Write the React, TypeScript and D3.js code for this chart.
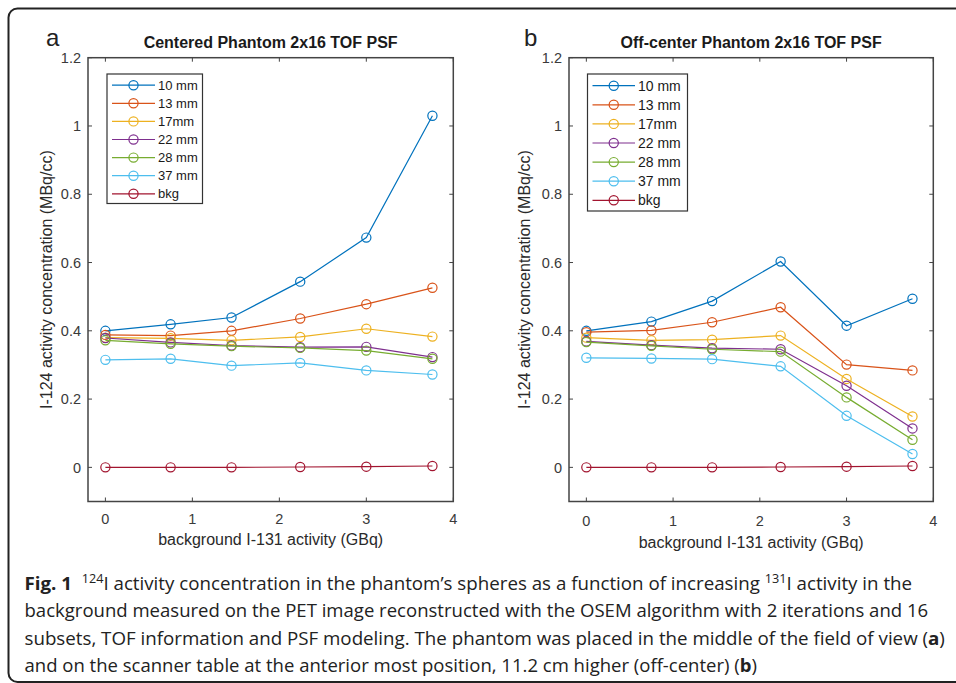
import React, { useLayoutEffect, useRef } from "react";
import * as d3 from "d3";

const xVals = [0, 0.75, 1.45, 2.24, 3.0, 3.76];
const seriesNames = ["10 mm", "13 mm", "17mm", "22 mm", "28 mm", "37 mm", "bkg"];
const seriesColors = ["#0072BD", "#D95319", "#EDB120", "#7E2F8E", "#77AC30", "#4DBEEE", "#A2142F"];

const s10a = [0.400, 0.419, 0.439, 0.544, 0.673, 1.030];
const s13a = [0.388, 0.386, 0.400, 0.436, 0.478, 0.526];
const s17a = [0.380, 0.378, 0.372, 0.382, 0.406, 0.383];
const s22a = [0.379, 0.366, 0.357, 0.352, 0.353, 0.323];
const s28a = [0.372, 0.362, 0.355, 0.350, 0.342, 0.318];
const s37a = [0.315, 0.318, 0.298, 0.306, 0.284, 0.272];
const bkga = [0.000, 0.000, 0.000, 0.001, 0.002, 0.004];

const s10b = [0.400, 0.427, 0.487, 0.603, 0.415, 0.494];
const s13b = [0.396, 0.401, 0.425, 0.469, 0.301, 0.284];
const s17b = [0.380, 0.372, 0.374, 0.386, 0.259, 0.149];
const s22b = [0.369, 0.358, 0.349, 0.346, 0.239, 0.114];
const s28b = [0.367, 0.356, 0.346, 0.339, 0.205, 0.081];
const s37b = [0.321, 0.319, 0.317, 0.296, 0.151, 0.039];
const bkgb = [0.000, 0.000, 0.000, 0.001, 0.002, 0.004];

const xTicks = [0, 1, 2, 3, 4];
const yTicks = [0, 0.2, 0.4, 0.6, 0.8, 1, 1.2];
const titleA = "Centered Phantom 2x16 TOF PSF";
const titleB = "Off-center Phantom 2x16 TOF PSF";
const xLabel = "background I-131 activity (GBq)";
const yLabel = "I-124 activity concentration (MBq/cc)";

const FONT = "'Liberation Sans', Arial, Helvetica, sans-serif";

type PanelProps = {
  left: number; right: number; top: number; bottom: number;
  data: number[][]; title: string; letter: string; letterX: number;
  legend: { x0: number; x1: number; y0: number; y1: number; row0: number; step: number; fs: number; lx0: number; lx1: number; tx: number };
  yLabelX: number; xLabelY: number; tickLabelY: number;
};

function Panel(p: PanelProps) {
  const x = d3.scaleLinear().domain([-0.2, 4]).range([p.left, p.right]);
  const y = d3.scaleLinear().domain([-0.1, 1.2]).range([p.bottom, p.top]);
  const line = d3.line<number>().x((_, i) => x(xVals[i])).y((v) => y(v));
  const tl = 4;
  const axisColor = "#444";
  const cx = (p.left + p.right) / 2;
  const cy = (p.top + p.bottom) / 2;
  const lg = p.legend;
  return (
    <g>
      <text x={p.letterX} y={45.5} fontFamily={FONT} fontSize={24} fill="#222">{p.letter}</text>
      <text x={cx} y={48} textAnchor="middle" fontFamily={FONT} fontSize={16} fontWeight="bold" fill="#1a1a1a">{p.title}</text>
      {xTicks.map((t) => (
        <g key={"xt" + t}>
          <line x1={x(t)} x2={x(t)} y1={p.bottom} y2={p.bottom - tl} stroke={axisColor} strokeWidth={1} />
          <line x1={x(t)} x2={x(t)} y1={p.top} y2={p.top + tl} stroke={axisColor} strokeWidth={1} />
          <text x={x(t)} y={p.tickLabelY} textAnchor="middle" fontFamily={FONT} fontSize={14.5} fill="#3a3a3a">{t}</text>
        </g>
      ))}
      {yTicks.map((t) => (
        <g key={"yt" + t}>
          <line x1={p.left} x2={p.left + tl} y1={y(t)} y2={y(t)} stroke={axisColor} strokeWidth={1} />
          <line x1={p.right} x2={p.right - tl} y1={y(t)} y2={y(t)} stroke={axisColor} strokeWidth={1} />
          <text x={p.left - 7} y={y(t)} dy="0.36em" textAnchor="end" fontFamily={FONT} fontSize={14.5} fill="#3a3a3a">{String(t)}</text>
        </g>
      ))}
      <rect x={p.left} y={p.top} width={p.right - p.left} height={p.bottom - p.top} fill="none" stroke={axisColor} strokeWidth={1.5} />
      {p.data.map((vals, si) => (
        <g key={"s" + si}>
          <path d={line(vals) || ""} fill="none" stroke={seriesColors[si]} strokeWidth={1.2} />
          {vals.map((v, i) => (
            <circle key={i} cx={x(xVals[i])} cy={y(v)} r={4.6} fill="none" stroke={seriesColors[si]} strokeWidth={1.2} />
          ))}
        </g>
      ))}
      <rect x={lg.x0} y={lg.y0} width={lg.x1 - lg.x0} height={lg.y1 - lg.y0} fill="#fff" stroke="#333" strokeWidth={1.2} />
      {seriesNames.map((n, i) => {
        const ry = lg.row0 + i * lg.step;
        return (
          <g key={"lg" + i}>
            <line x1={lg.lx0} x2={lg.lx1} y1={ry} y2={ry} stroke={seriesColors[i]} strokeWidth={1.2} />
            <circle cx={(lg.lx0 + lg.lx1) / 2} cy={ry} r={4.6} fill="none" stroke={seriesColors[i]} strokeWidth={1.2} />
            <text x={lg.tx} y={ry} dy="0.36em" fontFamily={FONT} fontSize={lg.fs} fill="#1a1a1a">{n}</text>
          </g>
        );
      })}
      <text x={cx} y={p.xLabelY} textAnchor="middle" fontFamily={FONT} fontSize={16} fill="#2a2a2a">{xLabel}</text>
      <text transform={`translate(${p.yLabelX},${cy}) rotate(-90)`} textAnchor="middle" dy="0.36em" fontFamily={FONT} fontSize={16} fill="#2a2a2a">{yLabel}</text>
    </g>
  );
}

const CAP_X = 24.5;
const capBaselines = [590, 617.5, 645, 672];
const capWidths = [888, 904, 921, 733];

function Caption() {
  const refs = [useRef<SVGTextElement>(null), useRef<SVGTextElement>(null), useRef<SVGTextElement>(null), useRef<SVGTextElement>(null)];
  useLayoutEffect(() => {
    refs.forEach((r, i) => {
      const el = r.current;
      if (!el) return;
      el.removeAttribute("transform");
      const w = el.getBBox().width;
      if (w > 0) {
        const s = capWidths[i] / w;
        el.setAttribute("transform", `translate(${CAP_X},0) scale(${s},1) translate(${-CAP_X},0)`);
      }
    });
  }, []);
  const common = { x: CAP_X, fontFamily: "'Open Sans', 'Noto Sans', sans-serif", fontSize: 18.5, fill: "#222" };
  return (
    <g>
      <text ref={refs[0]} y={capBaselines[0]} {...common}>
        <tspan fontWeight="bold">Fig. 1</tspan>
        <tspan>{"\u00a0\u00a0"}</tspan>
        <tspan fontSize={12.5} dy={-7}>124</tspan>
        <tspan dy={7}>I activity concentration in the phantom’s spheres as a function of increasing </tspan>
        <tspan fontSize={12.5} dy={-7}>131</tspan>
        <tspan dy={7}>I activity in the</tspan>
      </text>
      <text ref={refs[1]} y={capBaselines[1]} {...common}>
        background measured on the PET image reconstructed with the OSEM algorithm with 2 iterations and 16
      </text>
      <text ref={refs[2]} y={capBaselines[2]} {...common}>
        <tspan>subsets, TOF information and PSF modeling. The phantom was placed in the middle of the field of view (</tspan>
        <tspan fontWeight="bold">a</tspan>
        <tspan>)</tspan>
      </text>
      <text ref={refs[3]} y={capBaselines[3]} {...common}>
        <tspan>and on the scanner table at the anterior most position, 11.2 cm higher (off-center) (</tspan>
        <tspan fontWeight="bold">b</tspan>
        <tspan>)</tspan>
      </text>
    </g>
  );
}

export default function App() {
  const dataA = [s10a, s13a, s17a, s22a, s28a, s37a, bkga];
  const dataB = [s10b, s13b, s17b, s22b, s28b, s37b, bkgb];
  return (
    <svg width={956} height={683} style={{ position: "absolute", left: 0, top: 0, background: "#fff" }}>
      <rect x={0} y={0} width={956} height={683} fill="#fff" />
      <rect x={8.5} y={8.5} width={1000} height={673.5} rx={9} fill="none" stroke="#222" strokeWidth={2} />
      <Panel
        left={88} right={453.3} top={57.7} bottom={501.5}
        data={dataA} title={titleA} letter="a" letterX={46}
        legend={{ x0: 107, x1: 202.5, y0: 74, y1: 203.5, row0: 85.2, step: 18.1, fs: 13, lx0: 112, lx1: 155, tx: 158 }}
        yLabelX={46} xLabelY={545} tickLabelY={524}
      />
      <Panel
        left={569} right={933.3} top={57.7} bottom={501.5}
        data={dataB} title={titleB} letter="b" letterX={524}
        legend={{ x0: 587.5, x1: 687.5, y0: 74, y1: 211, row0: 85.7, step: 19.1, fs: 14, lx0: 592.5, lx1: 635, tx: 638 }}
        yLabelX={524} xLabelY={548} tickLabelY={525.5}
      />
      <Caption />
    </svg>
  );
}
